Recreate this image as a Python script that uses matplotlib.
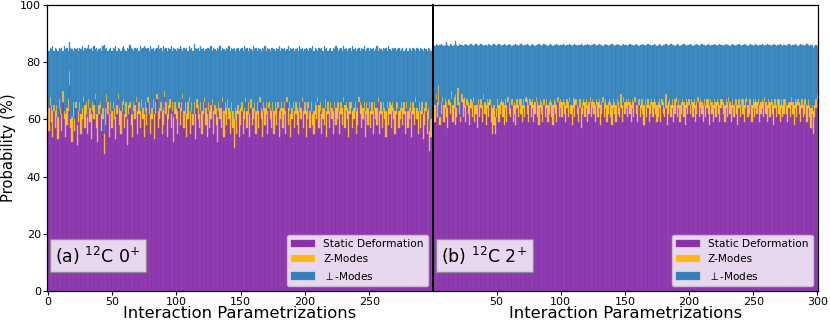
import matplotlib
matplotlib.use("Agg")
import matplotlib.pyplot as plt
import numpy as np

# ---------------- data ----------------
panel_labels = [r"(a) $^{12}$C 0$^{+}$", r"(b) $^{12}$C 2$^{+}$"]
series_names = ["Static Deformation", "Z-Modes", r"$\perp$-Modes"]
x_label = "Interaction Parametrizations"
y_label = "Probability (%)"
y_ticks = [0, 20, 40, 60, 80, 100]
left_xticks = [0, 50, 100, 150, 200, 250]
right_xticks = [50, 100, 150, 200, 250, 300]

left_static = [
    62,56,65,59,54,63,57,61,53,64,62,56,66,60,54,58,63,72,57,52,61,56,64,51,59,
    63,55,60,66,57,62,55,64,59,53,63,60,67,57,52,62,64,56,60,48,58,66,62,54,63,
    57,64,60,53,62,67,58,55,63,65,57,61,51,62,64,58,54,63,60,66,55,62,57,64,60,
    54,63,58,66,62,55,60,64,53,62,67,57,60,63,55,58,68,62,54,60,64,57,63,52,62,
    60,55,64,58,63,67,57,62,54,60,66,55,63,58,62,53,64,60,57,63,55,62,66,58,54,
    63,57,60,65,55,62,58,52,63,60,57,66,54,62,58,64,60,55,63,57,50,60,55,62,54,
    58,63,55,60,66,57,62,54,64,58,60,63,55,62,57,66,60,54,63,58,62,55,64,60,57,
    63,55,62,58,64,54,60,63,57,62,55,66,58,63,54,60,64,57,62,58,55,63,60,66,57,
    62,54,60,64,57,63,58,55,62,60,66,57,63,55,60,58,64,54,62,57,63,60,55,64,58,
    60,63,55,62,58,66,57,63,60,54,62,64,57,60,63,55,58,66,62,57,60,63,54,62,58,
    64,57,62,55,63,60,58,66,55,62,57,63,60,54,64,58,62,57,63,60,55,62,64,57,60,
    63,58,62,55,64,57,60,63,54,62,58,66,60,55,63,57,62,53,58,63,55,60,49,54,62,
]
left_zmodes = [
    4,8,3,6,9,2,6,4,8,3,2,6,4,3,8,6,4,5,3,9,5,4,2,7,4,
    3,7,4,2,8,4,6,3,5,9,3,5,2,5,10,3,2,6,4,7,6,3,4,8,3,
    6,2,4,8,3,2,6,8,3,2,5,5,9,3,2,4,8,3,5,2,8,4,6,3,4,
    8,3,6,2,4,7,4,3,9,4,2,6,4,3,8,6,2,4,8,5,3,5,3,9,4,
    4,8,2,6,3,2,6,4,8,6,2,8,3,4,4,9,3,5,5,3,8,4,2,6,8,
    3,6,5,2,8,3,6,9,3,4,7,2,9,4,6,3,4,8,3,6,10,4,8,3,9,
    6,3,8,4,2,6,4,8,3,6,4,3,8,4,6,2,4,9,3,6,4,8,2,4,6,
    3,8,4,6,2,9,4,3,7,4,8,2,6,3,8,4,2,6,4,6,8,3,4,2,6,
    4,9,6,2,6,3,4,8,4,5,2,8,3,7,4,6,3,9,4,6,3,4,8,2,6,
    6,3,8,4,6,2,8,3,4,9,4,2,6,4,3,8,6,2,4,8,4,3,9,4,6,
    2,6,4,8,3,4,6,2,8,4,6,3,4,9,2,6,4,8,3,4,8,4,2,6,4,
    3,6,4,8,2,6,4,3,9,4,6,2,4,8,3,6,4,9,6,3,8,4,7,6,4,
]
left_total = [
    84.5,84,85,84.5,85.5,84,85,84.5,84,85,84.5,85,84,85.5,84.5,85,84,87,85,84.5,84,85,84.5,85,84,
    85,84.5,85.5,84,85,84.5,85,86,84.5,85,84,85.5,84.5,85,84,84.5,85,84,85.5,86,84.5,85,84,84.5,85,
    84,85,84.5,85.5,84,85,84.5,84,85,85.5,84.5,84,85,84.5,86,85,84.5,84,85,84.5,85,84,85.5,84.5,85,
    85.5,85,84.5,85,84,85.5,84.5,85,84,84.5,85,86,84.5,85,84,85.5,84.5,85,84,85,84.5,85.5,84,85,84.5,
    84,85,84.5,85.5,84.5,84,85,84.5,85,84,85.5,84.5,85,84,86.5,85,84.5,85,84,85.5,84.5,85,84,84.5,85,
    85,84.5,85.5,84,85,84.5,84,85,84.5,85.5,84,85,84.5,84,85,84.5,85.5,84,85,84.5,85,84,84.5,85,84,
    84.5,85,84,85.5,84.5,85,84,85,84.5,84,85.5,84.5,85,84,85,84.5,84,85,84.5,85.5,84,85,84.5,84,85,
    85,84.5,84,85,84.5,85.5,84,85,84.5,85,84,84.5,85.5,84,85,84.5,85,84,84.5,85,84,85.5,84.5,85,84,
    84.5,85,84.5,84,85,84.5,85.5,84,85,84.5,84,85,84.5,85,84,85.5,84.5,85,84,84.5,85,84,85,84.5,85.5,
    85,84,84.5,85,84,85.5,84.5,85,84,84.5,85,84,85.5,84.5,85,84,84.5,85,84,85,84.5,85.5,84,84.5,85,
    84,85,84.5,85,84,84.5,85.5,84,85,84.5,84,85,84.5,85,84,85.5,84.5,84,85,84.5,85,84,84.5,85,84,
    84.5,85,84,84.5,85,84,85,84.5,84,85,84.5,84,85,84.5,84,85,84.5,84,85,84.5,84,85,84.5,84,84.5,
]

right_static = [
    64,59,67,61,65,58,62,66,59,64,61,57,65,62,67,59,64,58,61,65,62,59,66,61,64,
    59,65,62,58,64,61,66,59,62,57,65,61,64,59,67,62,58,64,61,65,59,55,58,55,61,
    64,59,62,65,61,58,64,59,66,62,61,65,59,62,58,64,61,65,62,59,64,61,66,62,59,
    65,61,64,59,62,66,61,58,64,62,59,65,61,64,59,62,65,61,58,64,62,59,66,61,64,
    61,65,62,59,64,61,66,62,58,64,61,65,62,59,64,57,62,65,61,64,59,62,66,61,64,
    62,59,65,61,64,58,62,66,61,64,59,62,65,61,58,64,62,59,65,62,61,64,59,66,62,
    64,61,65,62,59,64,61,66,62,59,65,61,64,62,58,65,61,64,59,62,65,61,64,62,59,
    61,64,59,65,62,61,64,58,62,65,61,64,59,62,66,61,64,59,62,65,61,58,64,62,65,
    62,65,61,64,59,62,66,61,64,62,59,65,61,64,62,58,65,62,59,64,61,65,62,59,64,
    65,62,59,64,61,66,62,59,64,61,65,62,58,64,61,65,62,59,64,66,61,62,65,59,64,
    61,64,62,65,59,62,64,61,66,62,59,64,61,65,62,58,64,61,65,62,59,64,61,62,65,
    62,59,64,61,65,62,58,64,61,65,62,59,64,61,62,65,59,64,61,57,62,55,61,64,67,
]
right_zmodes = [
    3,6,2,5,7,3,4,2,6,3,5,7,2,4,3,6,4,11,3,6,4,2,3,6,4,
    6,2,4,7,3,5,2,6,3,8,2,4,3,6,2,4,7,3,5,2,6,9,7,6,3,
    3,6,4,2,5,7,3,6,2,4,3,2,6,4,7,3,4,2,5,6,3,4,2,5,6,
    2,5,3,6,4,2,5,7,3,4,6,2,4,3,6,4,2,5,7,3,4,6,2,5,3,
    5,2,4,6,3,5,2,3,7,4,6,2,3,5,3,7,4,2,5,3,6,4,2,5,3,
    4,6,2,5,3,7,4,2,5,3,6,4,2,5,7,3,4,6,2,4,3,5,6,2,4,
    3,5,2,4,6,3,5,2,3,6,2,4,3,5,7,2,4,3,6,4,2,5,3,4,6,
    5,3,6,2,4,3,5,7,4,2,4,3,6,5,2,4,3,6,4,2,5,7,3,4,2,
    3,2,5,3,6,4,2,5,3,4,6,2,4,3,5,7,2,4,6,3,5,2,4,6,3,
    2,4,6,3,5,2,4,6,3,4,2,5,7,3,4,2,5,6,3,2,4,5,2,6,3,
    5,3,4,2,6,4,3,5,2,4,6,3,5,2,4,7,3,4,2,5,6,3,4,5,2,
    3,6,2,5,3,4,7,3,5,2,4,6,3,4,5,2,6,3,4,7,3,8,4,3,2,
]
right_total = [
    86,85.5,86.5,86,85.5,86,86.5,86,85.5,86,87,86,85.5,86.5,86,85.5,86,87.5,86,85.5,86.5,86,86,85.5,86,
    86.5,86,85.5,86,86.5,86,85.5,86,86.5,86,85.5,86,86.5,86,85.5,86,86,85.5,86.5,86,85.5,86,86.5,86,85.5,
    86,86.5,86,85.5,86,86.5,86,85.5,86,86.5,86,85.5,86,86,86.5,86,85.5,86,86.5,86,85.5,86,86,86.5,86,
    85.5,86,86.5,86,85.5,86,86,86.5,86,85.5,86,86.5,86,86,85.5,86,86.5,86,85.5,86,86,86.5,86,85.5,86,
    86,86.5,86,85.5,86,86,86.5,86,85.5,86,86.5,86,85.5,86,86,86.5,86,85.5,86,86,86.5,86,85.5,86,86,
    86.5,86,85.5,86,86.5,86,86,85.5,86,86.5,86,85.5,86,86,86.5,86,85.5,86,86.5,86,86,85.5,86,86.5,86,
    86,85.5,86,86.5,86,86,85.5,86,86.5,86,85.5,86,86,86.5,86,85.5,86,86.5,86,86,85.5,86,86.5,86,85.5,
    86,86.5,86,85.5,86,86,86.5,86,85.5,86,86.5,86,86,85.5,86,86.5,86,85.5,86,86,86.5,86,85.5,86,86,
    86.5,86,85.5,86,86,86.5,86,85.5,86,86.5,86,86,85.5,86,86.5,86,85.5,86,86,86.5,86,85.5,86,86.5,86,
    86,85.5,86,86.5,86,86,85.5,86,86.5,86,85.5,86,86,86.5,86,85.5,86,86.5,86,86,85.5,86,86.5,86,85.5,
    86,86.5,86,85.5,86,86,86.5,86,85.5,86,86.5,86,86,85.5,86,86.5,86,85.5,86,86,86.5,86,85.5,86,86,
    85.5,86,86.5,86,85.5,86,86,86.5,86,85.5,86,86.5,86,86,85.5,86,86.5,86,85.5,86,86,85,85.5,86,85.5,
]

colors = ["#7B1FA2", "#FFB300", "#1F77B4"]
edge_colors = ["#9C4DB8", "#FFCA55", "#4C95C8"]

# ---------------- figure ----------------
fig = plt.figure(figsize=(8.30, 3.26), dpi=100)
axL = fig.add_axes([47/830, 1-291/326, (433-47)/830, (291-5)/326])
axR = fig.add_axes([433/830, 1-291/326, (818-433)/830, (291-5)/326], sharey=axL)

panels = [
    (axL, np.arange(0, 300), left_static, left_zmodes, left_total, panel_labels[0], left_xticks, (-0.5, 299.5)),
    (axR, np.arange(1, 301), right_static, right_zmodes, right_total, panel_labels[1], right_xticks, (0.5, 300.5)),
]

for ax, x, st, zm, tot, lab, xt, xl in panels:
    st = np.array(st, float)
    zm = np.array(zm, float)
    perp = np.array(tot, float) - st - zm
    bottoms = [np.zeros_like(st), st, st + zm]
    for vals, bot, c, ec, name in zip([st, zm, perp], bottoms, colors, edge_colors, series_names):
        ax.bar(x, vals, width=1.0, bottom=bot, color=c, alpha=0.9,
               edgecolor=ec, linewidth=0.25, label=name)
    ax.set_xlim(*xl)
    ax.set_xticks(xt)
    ax.set_ylim(0, 100)
    ax.set_xlabel(x_label, fontsize=11.8, labelpad=-0.8)
    ax.tick_params(labelsize=8, length=3, pad=1.5)
    ax.text(0.022, 0.099, lab, transform=ax.transAxes, fontsize=12.5,
            bbox=dict(boxstyle="square,pad=0.3", facecolor="white", alpha=0.8, edgecolor="#888888"))
    ax.legend(loc="lower right", fontsize=7.6, framealpha=0.8, handlelength=2.2,
              borderaxespad=0.5)
    for s in ax.spines.values():
        s.set_linewidth(0.9)

axL.set_yticks(y_ticks)
axL.set_ylabel(y_label, fontsize=10.6, labelpad=3)
axR.tick_params(axis="y", left=False, labelleft=False)
axL.spines["right"].set_linewidth(1.4)
axR.spines["left"].set_linewidth(1.4)

fig.savefig("out.png", dpi=100)
